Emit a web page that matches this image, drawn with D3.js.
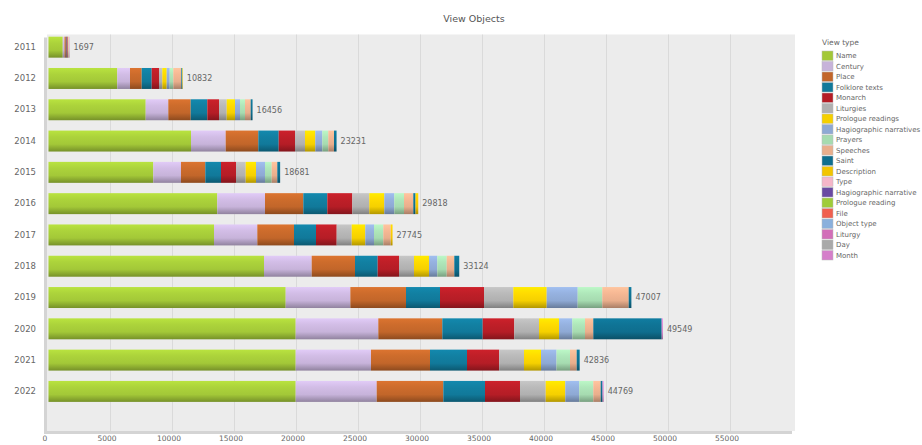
<!DOCTYPE html>
<html>
<head>
<meta charset="utf-8">
<script src="https://cdn.jsdelivr.net/npm/d3@7"></script>
<style>
  body { margin: 0; background: #fff; }
  svg { display: block; font-family: "DejaVu Sans", sans-serif; }
</style>
</head>
<body>
<svg id="chart" width="922" height="445"></svg>
<script>
// Years shown on the category axis
const years = ["2011","2012","2013","2014","2015","2016","2017","2018","2019","2020","2021","2022"];

// Object types (stack order) and their colours
const viewTypes = ["Name","Century","Place","Folklore texts","Monarch","Liturgies","Prologue readings",
  "Hagiographic narratives","Prayers","Speeches","Saint","Description","Type","Hagiographic narrative",
  "Prologue reading","File","Object type","Liturgy","Day","Month"];
const typeColors = ["#a3c838","#c7b3da","#c2662a","#11799a","#b51d26","#b0b0b0","#f5d000","#8ea9d4",
  "#a6dbb0","#e9ae8c","#0e6e8e","#f2c500","#f5b6c9","#6a4aa2","#9fcc3a","#f0604f","#8ab0dc","#d26fb9","#a9a9a9","#d57fca"];

// Views per object type, one value per year
const nameVals      = [1150, 5548, 7839, 11492, 8452, 13613, 13347, 17379, 19129, 19935, 19935, 19935];
const centuryVals   = [140, 1025, 1822, 2798, 2233, 3847, 3492, 3847, 5214, 6662, 6073, 6533];
const placeVals     = [110, 943, 1807, 2629, 1960, 3088, 2959, 3492, 4488, 5161, 4758, 5371];
const folkloreVals  = [60, 807, 1338, 1646, 1266, 1936, 1775, 1830, 2742, 3258, 2984, 3363];
const monarchVals   = [90, 588, 944, 1314, 1210, 2016, 1669, 1718, 3548, 2549, 2597, 2822];
const liturgiesVals = [30, 266, 621, 806, 782, 1371, 1210, 1210, 2363, 1991, 2000, 2073];
const prologuesVals = [20, 355, 669, 831, 831, 1210, 1096, 1209, 2693, 1613, 1371, 1580];
const hagiosVals    = [20, 242, 404, 565, 726, 806, 702, 670, 2500, 1073, 1250, 1129];
const prayersVals   = [15, 291, 403, 484, 540, 782, 750, 758, 1984, 1024, 1088, 1129];
const speechesVals  = [30, 645, 459, 459, 452, 750, 597, 613, 2129, 669, 541, 597];
const saintVals     = [0, 80, 150, 207, 229, 180, 0, 398, 217, 5517, 239, 150];
const descrVals     = [0, 42, 0, 0, 0, 219, 148, 0, 0, 0, 0, 0];
const typeVals      = [0, 0, 0, 0, 0, 0, 0, 0, 0, 0, 0, 0];
const hagioVals     = [0, 0, 0, 0, 0, 0, 0, 0, 0, 0, 0, 0];
const prologueVals  = [0, 0, 0, 0, 0, 0, 0, 0, 0, 0, 0, 0];
const fileVals      = [0, 0, 0, 0, 0, 0, 0, 0, 0, 0, 0, 0];
const objTypeVals   = [0, 0, 0, 0, 0, 0, 0, 0, 0, 0, 0, 0];
const liturgyVals   = [0, 0, 0, 0, 0, 0, 0, 0, 0, 0, 0, 0];
const dayVals       = [0, 0, 0, 0, 0, 0, 0, 0, 0, 0, 0, 0];
const monthVals     = [32, 0, 0, 0, 0, 0, 0, 0, 0, 97, 0, 87];

const xTickValues = [0, 5000, 10000, 15000, 20000, 25000, 30000, 35000, 40000, 45000, 50000, 55000];

const seriesValues = [nameVals, centuryVals, placeVals, folkloreVals, monarchVals, liturgiesVals,
  prologuesVals, hagiosVals, prayersVals, speechesVals, saintVals, descrVals, typeVals, hagioVals,
  prologueVals, fileVals, objTypeVals, liturgyVals, dayVals, monthVals];

// One row per year, keyed by type
const rows = years.map((yr, i) => {
  const r = { year: yr };
  viewTypes.forEach((t, k) => { r[t] = seriesValues[k][i]; });
  return r;
});

const svg = d3.select("#chart");

const plot = { left: 47, right: 795, top: 34.5, bottom: 431 };

const x = d3.scaleLinear().domain([0, 60000]).range([48.5, 792.5]);
const y = d3.scaleBand().domain(years).range([plot.top, plot.bottom])
  .paddingInner(0.33).paddingOuter(0.5).align(0.07);

const color = d3.scaleOrdinal().domain(viewTypes).range(typeColors);

// Shaded gradients giving each bar segment a rounded look
const defs = svg.append("defs");
viewTypes.forEach((t, k) => {
  const c = d3.color(color(t));
  const g = defs.append("linearGradient").attr("id", "grad" + k)
    .attr("x1", 0).attr("y1", 0).attr("x2", 0).attr("y2", 1);
  g.append("stop").attr("offset", "0%").attr("stop-color", c.brighter(0.35));
  g.append("stop").attr("offset", "30%").attr("stop-color", c.brighter(0.15));
  g.append("stop").attr("offset", "65%").attr("stop-color", c);
  g.append("stop").attr("offset", "100%").attr("stop-color", c.darker(0.9));
});

// Title
svg.append("text").attr("x", 474).attr("y", 22).attr("text-anchor", "middle")
  .attr("font-size", 9.5).attr("fill", "#555").text("View Objects");

// Plot background with a side and floor wall
svg.append("rect").attr("x", plot.left).attr("y", plot.top)
  .attr("width", plot.right - plot.left).attr("height", plot.bottom - plot.top)
  .attr("fill", "#ececec");
svg.append("rect").attr("x", plot.left - 3).attr("y", plot.top + 3)
  .attr("width", 3).attr("height", plot.bottom - plot.top)
  .attr("fill", "#d4d4d4");
svg.append("rect").attr("x", plot.left - 3).attr("y", plot.bottom)
  .attr("width", plot.right - plot.left).attr("height", 3)
  .attr("fill", "#d4d4d4");

// Vertical gridlines
svg.append("g").selectAll("line").data(xTickValues.slice(1)).join("line")
  .attr("x1", d => x(d)).attr("x2", d => x(d))
  .attr("y1", plot.top).attr("y2", plot.bottom)
  .attr("stroke", "#dadada").attr("stroke-width", 1);

// Stacked bars
const stack = d3.stack().keys(viewTypes);
const layers = stack(rows);

svg.append("g").selectAll("g").data(layers).join("g")
  .attr("fill", (d, k) => `url(#grad${k})`)
  .selectAll("rect").data(d => d.filter(s => s[1] - s[0] > 0)).join("rect")
  .attr("x", d => x(d[0]))
  .attr("y", d => y(d.data.year))
  .attr("width", d => x(d[1]) - x(d[0]))
  .attr("height", y.bandwidth());

// Totals at the end of each bar
svg.append("g").selectAll("text").data(rows).join("text")
  .attr("x", d => x(d3.sum(viewTypes, t => d[t])) + 4)
  .attr("y", d => y(d.year) + y.bandwidth() / 2)
  .attr("dy", "0.35em").attr("font-size", 8).attr("fill", "#666")
  .text(d => d3.sum(viewTypes, t => d[t]));

// Axes
const yAxis = svg.append("g").attr("transform", `translate(${plot.left - 3},0)`)
  .call(d3.axisLeft(y).tickSize(0).tickPadding(8));
yAxis.select(".domain").remove();
yAxis.selectAll("text").attr("font-size", 8.5).attr("fill", "#666")
  .attr("font-family", "DejaVu Sans, sans-serif");

const xAxis = svg.append("g").attr("transform", `translate(-4,${plot.bottom + 1})`)
  .call(d3.axisBottom(x).tickValues(xTickValues).tickSize(0).tickPadding(4).tickFormat(d3.format("d")));
xAxis.select(".domain").remove();
xAxis.selectAll("text").attr("font-size", 7.5).attr("fill", "#666")
  .attr("font-family", "DejaVu Sans, sans-serif");

// Legend
const legend = svg.append("g").attr("transform", "translate(822,0)");
legend.append("text").attr("x", 0).attr("y", 45).attr("font-size", 7.5).attr("fill", "#666").text("View type");
const item = legend.selectAll("g.item").data(viewTypes).join("g").attr("class", "item")
  .attr("transform", (d, i) => `translate(0,${51 + i * 10.5})`);
item.append("rect").attr("width", 11).attr("height", 9.5)
  .attr("fill", d => color(d)).attr("stroke", "#bbb").attr("stroke-width", 0.5);
item.append("text").attr("x", 14).attr("y", 5).attr("dy", "0.35em")
  .attr("font-size", 7).attr("fill", "#666").text(d => d);
</script>
</body>
</html>
